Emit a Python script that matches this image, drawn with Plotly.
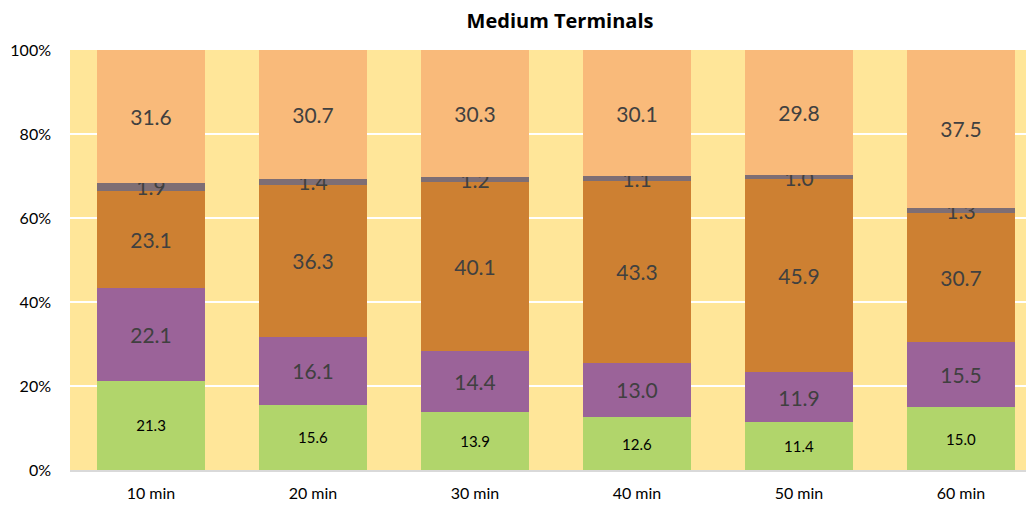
import plotly.graph_objects as go

categories = ["10 min", "20 min", "30 min", "40 min", "50 min", "60 min"]
s_green = [21.3, 15.6, 13.9, 12.6, 11.4, 15.0]
s_purple = [22.1, 16.1, 14.4, 13.0, 11.9, 15.5]
s_brown = [23.1, 36.3, 40.1, 43.3, 45.9, 30.7]
s_grey = [1.9, 1.4, 1.2, 1.1, 1.0, 1.3]
s_peach = [31.6, 30.7, 30.3, 30.1, 29.8, 37.5]

series = [
    ("Green", s_green, "#B1D56B", "#000000", 15),
    ("Purple", s_purple, "#9B6399", "#404040", 21),
    ("Brown", s_brown, "#CD8032", "#404040", 21),
    ("Grey", s_grey, "#7E6E74", "#404040", 21),
    ("Peach", s_peach, "#F9BA7A", "#404040", 21),
]

fig = go.Figure()
for name, vals, color, tcolor, tsize in series:
    fig.add_trace(go.Bar(
        x=categories, y=vals, name=name,
        marker=dict(color=color, line=dict(width=0)),
        text=[f"{v:.1f}" for v in vals],
        textposition="inside", insidetextanchor="middle",
        constraintext="none", cliponaxis=False,
        textfont=dict(color=tcolor, size=tsize, family="Lato"),
        textangle=0,
    ))

fig.update_layout(
    width=1034, height=517,
    barmode="stack", barnorm="percent", bargap=0.333,
    paper_bgcolor="white", plot_bgcolor="#FFE699",
    margin=dict(l=62, r=0, t=42, b=55),
    showlegend=False,
    font=dict(family="Lato", color="#000000", size=16),
    title=dict(text="<b>Medium Terminals</b>", x=552 / 1034, xref="container", xanchor="center",
               y=1 - 13 / 517, yref="container", yanchor="middle",
               font=dict(size=20, family="Open Sans", color="#000000")),
    uniformtext=dict(mode=False),
)
fig.update_xaxes(range=[-0.5, 5.5], showgrid=False, showline=True, linecolor="#D9D9D9",
                 linewidth=2, ticks="", ticklabelstandoff=8, tickfont=dict(size=16))
fig.update_yaxes(range=[0, 100], tickvals=[0, 20, 40, 60, 80, 100],
                 ticktext=["0%", "20%", "40%", "60%", "80%", "100%"],
                 showgrid=True, gridcolor="white", gridwidth=2, zeroline=False,
                 showline=False, ticks="", ticklabelstandoff=18, tickfont=dict(size=16))

fig.write_html("out.html")
